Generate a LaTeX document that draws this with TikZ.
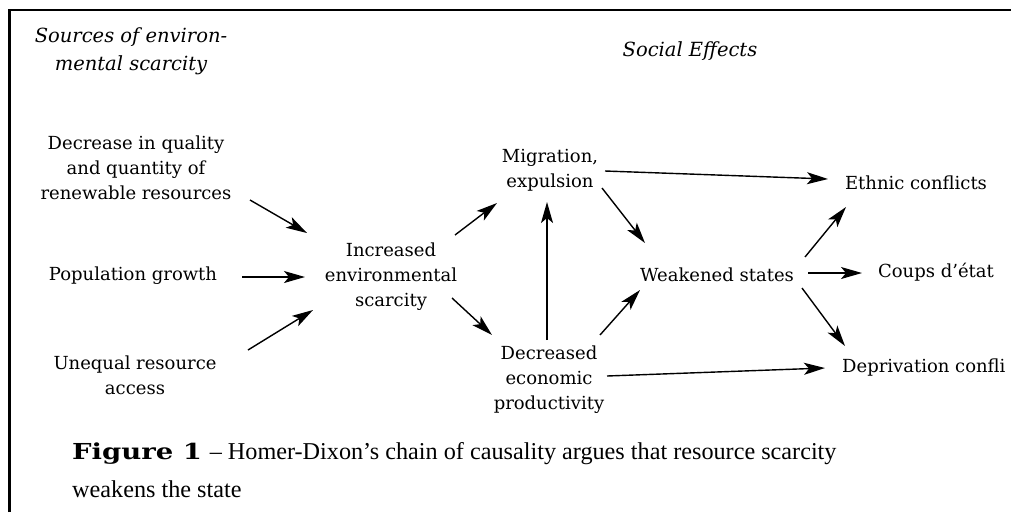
\documentclass[tikz,border=0pt]{standalone}
\usepackage{fontspec}
\setmainfont{DejaVu Serif}
\newfontfamily\capfont{Liberation Serif}
\newfontfamily\figfont[FakeStretch=1.25]{DejaVu Serif}
\usetikzlibrary{arrows.meta,calc}
\begin{document}
\begin{tikzpicture}[x=1pt,y=-1pt,
  lbl/.style={inner sep=0pt, align=center, text=black, font=\fontsize{18}{25}\selectfont},
  hdr/.style={inner sep=0pt, align=center, text=black, font=\fontsize{19.5}{28}\selectfont\itshape},
  arr/.style={line width=1.4pt, black, -{Stealth[length=21pt,width=12pt,inset=5pt]}}]
\useasboundingbox (0,0) rectangle (1011,512);
\draw[line width=2.5pt] (9.5,512) -- (9.5,10) -- (1011,10);

% headers
\node[hdr] (h1) at (131,51) {Sources of environ-\\mental scarcity};
\node[hdr] (h2) at (690,51) {Social Effects};

% sources
\node[lbl] (dec) at (136,168) {Decrease in quality\\and quantity of\\renewable resources};
\node[lbl] (pop) at (133,276) {Population growth};
\node[lbl] (uneq) at (135,375) {Unequal resource\\access};

% middle
\node[lbl] (inc) at (391,277) {Increased\\environmental\\scarcity};
\node[lbl] (mig) at (550,170) {Migration,\\expulsion};
\node[lbl] (decp) at (549,380) {Decreased\\economic\\productivity};
\node[lbl] (weak) at (717,275) {Weakened states};

% effects
\node[lbl] (eth) at (916,183) {Ethnic conflicts};
\node[lbl] (coup) at (936,272) {Coups d'état};
\node[lbl, anchor=west] (depr) at (842,368) {Deprivation confli};

% arrows
\draw[arr] ($(dec)+(114,32)$) -- ($(inc)+(-84,-44)$);
\draw[arr] ($(pop)+(109,1)$) -- ($(inc)+(-86,0)$);
\draw[arr] ($(uneq)+(113,-25)$) -- ($(inc)+(-78,33)$);
\draw[arr] ($(inc)+(64,-42)$) -- ($(mig)+(-53,33)$);
\draw[arr] ($(inc)+(61,21)$) -- ($(decp)+(-57,-45)$);
\draw[arr] ($(decp)+(-2,-40)$) -- ($(mig)+(-3,32)$);
\draw[arr] ($(mig)+(52,18)$) -- ($(weak)+(-72,-32)$);
\draw[arr] ($(decp)+(51,-45)$) -- ($(weak)+(-77,15)$);
\draw[arr] ($(mig)+(55,1)$) -- ($(eth)+(-88,-4)$);
\draw[arr] ($(decp)+(58,-4)$) -- ($(depr.west)+(-17,0)$);
\draw[arr] ($(weak)+(88,-18)$) -- ($(eth)+(-70,24)$);
\draw[arr] ($(weak)+(91,-2)$) -- ($(coup)+(-74,1)$);
\draw[arr] ($(weak)+(85,13)$) -- ($(depr.west)+(3,-22)$);

% caption
\node[anchor=base west, inner sep=0pt] (cap1) at (72,459)
  {{\figfont\bfseries\fontsize{22}{22}\selectfont Figure 1}\,{\capfont\fontsize{24.2}{24.2}\selectfont\ – Homer-Dixon’s chain of causality argues that resource scarcity}};
\node[anchor=base west, inner sep=0pt] (cap2) at (72,497)
  {\capfont\fontsize{24.2}{24.2}\selectfont weakens the state};
\end{tikzpicture}
\end{document}
